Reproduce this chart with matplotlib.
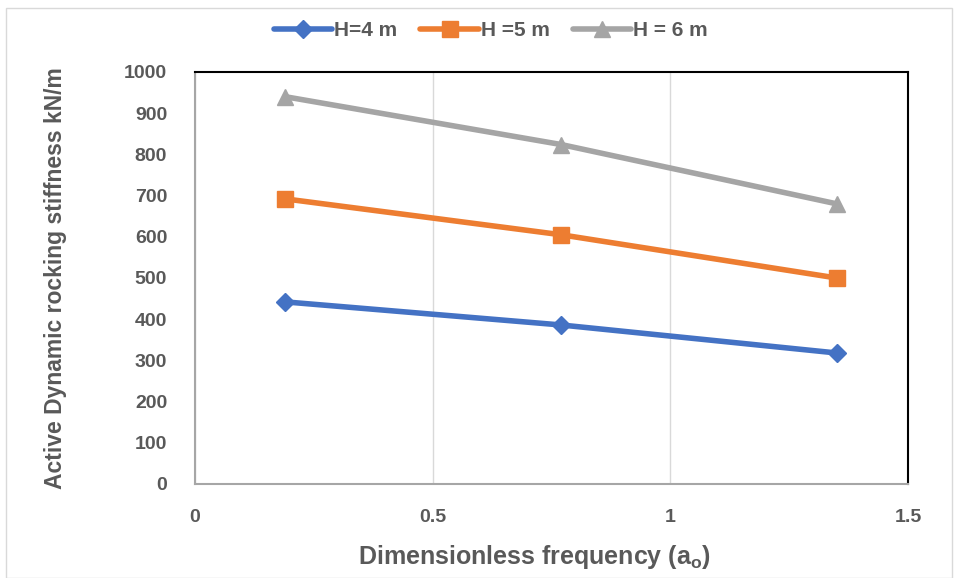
import matplotlib.pyplot as plt
from matplotlib.patches import Rectangle

freq = [0.19, 0.77, 1.35]
h4 = [442, 386, 318]
h5 = [692, 605, 500]
h6 = [940, 824, 680]
labels = ['H=4 m', 'H =5 m', 'H = 6 m']
colors = ['#4472C4', '#ED7D31', '#A5A5A5']
markers = ['D', 's', '^']

plt.rcParams['font.family'] = ['Liberation Sans', 'DejaVu Sans']
plt.rcParams['font.weight'] = 'bold'
plt.rcParams['mathtext.default'] = 'bf'
txt = '#595959'

fig = plt.figure(figsize=(9.55, 5.78), dpi=100)
ax = fig.add_axes([195 / 955, 1 - 484 / 578, 713 / 955, 412 / 578])

# outer chart-area border
fig.patches.append(Rectangle((6 / 955, 0), 946 / 955, 1 - 8 / 578,
                             transform=fig.transFigure, fill=False,
                             edgecolor='#d9d9d9', linewidth=1))

for ys, lab, c, m in zip([h4, h5, h6], labels, colors, markers):
    ms = 9 if m == 'D' else 11
    ax.plot(freq, ys, color=c, marker=m, markersize=ms, linewidth=4,
            label=lab, solid_capstyle='round')

ax.set_xlim(0, 1.5)
ax.set_ylim(0, 1000)
ax.set_xticks([0, 0.5, 1, 1.5])
ax.set_xticklabels(['0', '0.5', '1', '1.5'])
ax.set_yticks(range(0, 1001, 100))
ax.grid(axis='x', color='#d9d9d9', linewidth=1)
ax.set_axisbelow(True)
ax.tick_params(length=0, labelsize=14, labelcolor=txt, pad=20)
ax.tick_params(axis='x', pad=18)

for s in ['top', 'right']:
    ax.spines[s].set_color('black')
    ax.spines[s].set_linewidth(1.5)
for s in ['left', 'bottom']:
    ax.spines[s].set_color('#a6a6a6')
    ax.spines[s].set_linewidth(1.5)

ax.set_xlabel('Dimensionless frequency (a$_\\mathregular{o}$)', fontsize=18,
              fontweight='bold', color=txt)
ax.xaxis.set_label_coords((534 - 195) / 713, -(543 - 484) / 412)
ax.set_ylabel('Active Dynamic rocking stiffness kN/m', fontsize=16.5,
              fontweight='bold', color=txt, labelpad=41)

fig.legend(loc='center', bbox_to_anchor=(0.514, 1 - 31 / 578), ncol=3,
           frameon=False, prop={'weight': 'bold', 'size': 15},
           handlelength=2.8, columnspacing=1.1, handletextpad=0.1,
           labelcolor=txt)

fig.savefig('out.png', dpi=100)
